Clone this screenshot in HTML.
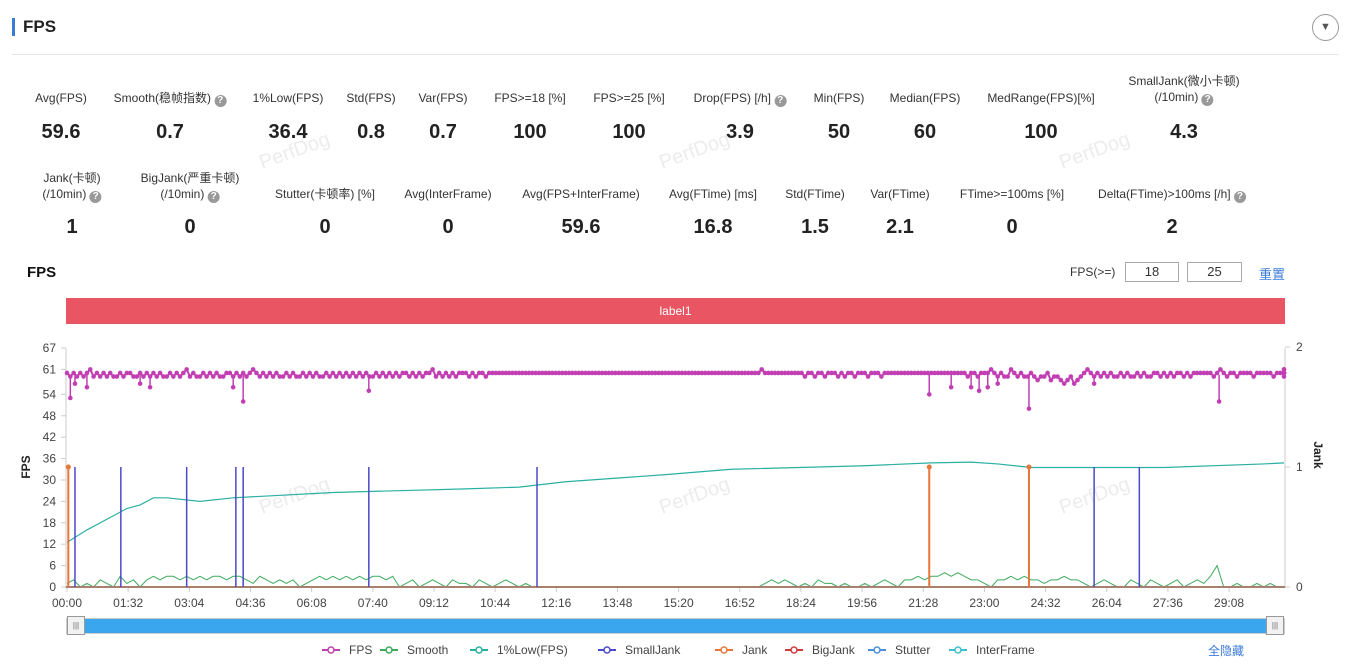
<!DOCTYPE html>
<html><head><meta charset="utf-8">
<style>
body{margin:0;width:1348px;height:664px;background:#fff;font-family:"Liberation Sans","Noto Sans CJK SC",sans-serif;position:relative;overflow:hidden;color:#333}
.abs{position:absolute}
.lbl{position:absolute;font-size:12px;color:#333;text-align:center;transform:translateX(-50%);white-space:nowrap;line-height:16px}
.val{position:absolute;font-size:20px;font-weight:bold;color:#222;transform:translateX(-50%)}
.q{display:inline-block;width:12px;height:12px;border-radius:50%;background:#999;color:#fff;font-size:10px;line-height:12px;text-align:center;vertical-align:-1px;font-weight:bold}
.inp{position:absolute;border:1px solid #aaa;height:18px;font-size:13px;text-align:center;line-height:18px;color:#333}
.wm{position:absolute;color:#ececec;font-size:20px;transform:rotate(-20deg)}
</style></head><body>
<div class="abs" style="left:12px;top:18px;width:3px;height:18px;background:#3b7bd8"></div>
<div class="abs" style="left:23px;top:17px;font-size:17px;font-weight:bold;color:#222">FPS</div>
<div class="abs" style="left:1312px;top:14px;width:25px;height:25px;border:1px solid #999;border-radius:50%;text-align:center;line-height:25px;font-size:11px;color:#555">▼</div>
<div class="abs" style="left:12px;top:54px;width:1326px;height:1px;background:#e5e5e5"></div>

<div class="wm" style="left:258px;top:140px">PerfDog</div><div class="wm" style="left:658px;top:140px">PerfDog</div><div class="wm" style="left:1058px;top:140px">PerfDog</div>
<div class="wm" style="left:258px;top:485px">PerfDog</div><div class="wm" style="left:658px;top:485px">PerfDog</div><div class="wm" style="left:1058px;top:485px">PerfDog</div>

<div>
<div class="lbl" style="left:61px;top:90px">Avg(FPS)</div><div class="val" style="left:61px;top:121px">59.6</div>
<div class="lbl" style="left:170px;top:90px">Smooth(稳帧指数) <span class="q">?</span></div><div class="val" style="left:170px;top:121px">0.7</div>
<div class="lbl" style="left:288px;top:90px">1%Low(FPS)</div><div class="val" style="left:288px;top:121px">36.4</div>
<div class="lbl" style="left:371px;top:90px">Std(FPS)</div><div class="val" style="left:371px;top:121px">0.8</div>
<div class="lbl" style="left:443px;top:90px">Var(FPS)</div><div class="val" style="left:443px;top:121px">0.7</div>
<div class="lbl" style="left:530px;top:90px">FPS>=18 [%]</div><div class="val" style="left:530px;top:121px">100</div>
<div class="lbl" style="left:629px;top:90px">FPS>=25 [%]</div><div class="val" style="left:629px;top:121px">100</div>
<div class="lbl" style="left:740px;top:90px">Drop(FPS) [/h] <span class="q">?</span></div><div class="val" style="left:740px;top:121px">3.9</div>
<div class="lbl" style="left:839px;top:90px">Min(FPS)</div><div class="val" style="left:839px;top:121px">50</div>
<div class="lbl" style="left:925px;top:90px">Median(FPS)</div><div class="val" style="left:925px;top:121px">60</div>
<div class="lbl" style="left:1041px;top:90px">MedRange(FPS)[%]</div><div class="val" style="left:1041px;top:121px">100</div>
<div class="lbl" style="left:1184px;top:73px">SmallJank(微小卡顿)<br>(/10min) <span class="q">?</span></div><div class="val" style="left:1184px;top:121px">4.3</div>
</div>
<div>
<div class="lbl" style="left:72px;top:170px">Jank(卡顿)<br>(/10min) <span class="q">?</span></div><div class="val" style="left:72px;top:216px">1</div>
<div class="lbl" style="left:190px;top:170px">BigJank(严重卡顿)<br>(/10min) <span class="q">?</span></div><div class="val" style="left:190px;top:216px">0</div>
<div class="lbl" style="left:325px;top:186px">Stutter(卡顿率) [%]</div><div class="val" style="left:325px;top:216px">0</div>
<div class="lbl" style="left:448px;top:186px">Avg(InterFrame)</div><div class="val" style="left:448px;top:216px">0</div>
<div class="lbl" style="left:581px;top:186px">Avg(FPS+InterFrame)</div><div class="val" style="left:581px;top:216px">59.6</div>
<div class="lbl" style="left:713px;top:186px">Avg(FTime) [ms]</div><div class="val" style="left:713px;top:216px">16.8</div>
<div class="lbl" style="left:815px;top:186px">Std(FTime)</div><div class="val" style="left:815px;top:216px">1.5</div>
<div class="lbl" style="left:900px;top:186px">Var(FTime)</div><div class="val" style="left:900px;top:216px">2.1</div>
<div class="lbl" style="left:1012px;top:186px">FTime>=100ms [%]</div><div class="val" style="left:1012px;top:216px">0</div>
<div class="lbl" style="left:1172px;top:186px">Delta(FTime)>100ms [/h] <span class="q">?</span></div><div class="val" style="left:1172px;top:216px">2</div>
</div>

<div class="abs" style="left:27px;top:264px;font-size:15px;font-weight:bold;color:#111">FPS</div>
<div class="abs" style="left:1070px;top:265px;font-size:12px">FPS(>=)</div>
<div class="inp" style="left:1125px;top:262px;width:52px">18</div>
<div class="inp" style="left:1187px;top:262px;width:53px">25</div>
<div class="abs" style="left:1259px;top:264px;font-size:13px;color:#3b7bd8">重置</div>
<div class="abs" style="left:66px;top:298px;width:1219px;height:26px;background:#ea5563;color:#fff;font-size:12px;text-align:center;line-height:26px">label1</div>

<svg id="chart" class="abs" style="left:0;top:0" width="1348" height="664"></svg>

<div class="abs" style="left:66px;top:618px;width:1219px;height:16px;background:#3aa6ee;border:1px solid #ccc;box-sizing:border-box"></div>
<div class="abs" style="left:67px;top:616px;width:18px;height:19px;background:#f2f2f2;border:1px solid #999;box-sizing:border-box;font-size:8px;text-align:center;line-height:17px;color:#666">|||</div>
<div class="abs" style="left:1266px;top:616px;width:18px;height:19px;background:#f2f2f2;border:1px solid #999;box-sizing:border-box;font-size:8px;text-align:center;line-height:17px;color:#666">|||</div>
<div class="abs" style="left:1208px;top:642px;font-size:12px;color:#3b7bd8">全隐藏</div>

<script>
const NS='http://www.w3.org/2000/svg';
const svg=document.getElementById('chart');
const xTickLabels=['00:00','01:32','03:04','04:36','06:08','07:40','09:12','10:44','12:16','13:48','15:20','16:52','18:24','19:56','21:28','23:00','24:32','26:04','27:36','29:08'];
const yTicks=[0,6,12,18,24,30,36,42,48,54,61,67];
const jankTicks=[0,1,2];
const sampleStep=5;
const fps=[60,59,60,59,60,59,60,61,59,60,59,60,59,60,59,59,60,59,60,60,59,59,60,59,60,59,60,59,60,59,59,60,59,60,59,60,61,59,60,59,
59,60,59,60,59,60,59,59,60,60,59,60,59,60,59,60,61,60,59,60,59,60,59,60,59,59,60,59,60,59,59,60,59,60,59,60,59,59,60,59,
60,59,60,59,60,59,60,59,60,59,60,59,59,60,59,60,59,60,59,60,59,60,60,59,60,59,60,59,60,60,61,59,60,59,60,59,60,59,60,60,
60,59,60,59,60,60,59,60,60,60,60,60,60,60,60,60,60,60,60,60,60,60,60,60,60,60,60,60,60,60,60,60,60,60,60,60,60,60,60,60,
60,60,60,60,60,60,60,60,60,60,60,60,60,60,60,60,60,60,60,60,60,60,60,60,60,60,60,60,60,60,60,60,60,60,60,60,60,60,60,60,
60,60,60,60,60,60,60,60,60,61,60,60,60,60,60,60,60,60,60,60,60,60,59,60,60,59,60,60,59,60,60,60,59,60,59,60,60,59,60,60,
60,59,60,60,60,59,60,60,60,60,60,60,60,60,60,60,60,60,60,60,60,60,60,60,60,60,60,60,60,60,60,59,60,60,59,60,60,60,61,60,
59,60,59,59,61,60,59,60,59,59,60,59,58,59,59,60,58,59,59,58,57,58,59,57,58,59,60,61,60,59,60,59,60,59,60,59,59,60,59,60,
59,59,60,59,60,59,59,60,60,59,60,59,60,59,60,60,59,60,59,60,60,60,60,60,60,59,60,61,60,59,60,60,59,60,60,60,60,59,60,60,
60,60,60,59,60,60,60,61,60,60,60,60,60,61,60,59,60];
const dipTimes=[5,12,30,110,125,250,265,454,1297,1330,1360,1372,1385,1400,1447,1545,1733];
const dipValues=[53,57,56,57,56,56,52,55,54,56,56,55,56,57,50,57,52];
const smooth=[1,2,0,1,0,2,1,0,3,1,2,0,2,3,2,3,3,2,3,2,3,2,3,3,2,3,3,2,1,3,2,1,2,1,2,0,1,2,3,2,3,2,3,2,3,2,3,3,2,3,0,1,2,0,1,2,1,0,2,1,1,0,2,1,0,1,2,1,0,1,0,0,0,0,0,0,0,0,0,0,0,0,0,0,0,0,0,0,0,0,0,0,0,0,0,0,0,0,0,0,0,0,0,0,0,1,2,1,2,1,0,1,0,2,1,1,0,1,0,0,1,0,1,2,1,0,2,2,3,2,3,3,4,3,4,3,2,2,1,0,2,2,3,2,3,2,2,1,2,2,3,2,2,1,0,1,2,1,0,0,2,1,0,2,1,0,1,2,0,1,2,1,3,6,0,0,1,0,0,1,0,1,0,0];
const smoothStep=10;
const lowTimes=[0,30,60,90,110,130,150,200,250,300,400,500,600,680,750,900,1000,1200,1300,1360,1400,1450,1550,1650,1800,1832];
const lowValues=[12.5,16,19,22,23,25,25,24,25,25.5,26.5,27,27.5,28,29.5,31.5,33,34,34.8,35,34.5,33.5,33.5,33.5,34.5,34.8];
const smallJankTimes=[12,81,180,254,265,454,707,1545,1613];
const jankTimes=[2,1297,1447];
const legendNames=['FPS','Smooth','1%Low(FPS)','SmallJank','Jank','BigJank','Stutter','InterFrame'];
const legendColors=['#c23fb3','#3daa5c','#2ab0a2','#4a4ac8','#e8763a','#d03a3a','#4a90d9','#3cc0d0'];

const X0=67,PX=0.6648,Y0=587,YK=239/67;
const xs=t=>Math.min(X0+t*PX,1284), yl=v=>Y0-v*YK, yr=v=>Y0-v*120;
function mk(tag,attrs,name){const e=document.createElementNS(NS,tag);for(const k in attrs)e.setAttribute(k,attrs[k]);


svg.appendChild(e);return e;}
function txt(x,y,s,anchor,name,extra){const e=mk('text',Object.assign({x:x,y:y,'font-size':12,fill:'#444','text-anchor':anchor,'font-family':'Liberation Sans, sans-serif'},extra||{}),name);e.textContent=s;return e;}
mk('line',{x1:66,y1:348,x2:66,y2:588,stroke:'#ccc'},'y-axis-left');
mk('line',{x1:1285,y1:348,x2:1285,y2:588,stroke:'#ccc'},'y-axis-right');
yTicks.forEach(v=>{mk('line',{x1:61,x2:66,y1:yl(v),y2:yl(v),stroke:'#ccc'},'y-tick');txt(56,yl(v)+4,String(v),'end','y-tick-label');});
jankTicks.forEach(v=>{mk('line',{x1:1285,x2:1290,y1:yr(v),y2:yr(v),stroke:'#ccc'},'jank-tick');txt(1296,yr(v)+4,String(v),'start','jank-tick-label');});
xTickLabels.forEach((s,i)=>{const x=xs(i*92);mk('line',{x1:x,x2:x,y1:587,y2:592,stroke:'#ccc'},'x-tick');txt(x,607,s,'middle','x-tick-label');});
txt(0,0,'FPS','middle','y-axis-title',{transform:'translate(30,467) rotate(-90)','font-weight':'bold',fill:'#222'});
txt(0,0,'Jank','middle','jank-axis-title',{transform:'translate(1314,455) rotate(90)','font-weight':'bold',fill:'#222'});
mk('polyline',{points:smooth.map((v,i)=>xs(i*smoothStep)+','+yl(v)).join(' '),fill:'none',stroke:'#3daa5c','stroke-width':1},'smooth-line');
mk('polyline',{points:lowTimes.map((t,i)=>xs(t)+','+yl(lowValues[i])).join(' '),fill:'none',stroke:'#2ab0a2','stroke-width':1.2},'low1-line');
mk('line',{x1:66,x2:1285,y1:587,y2:587,stroke:'#a88070','stroke-width':2},'bigjank-baseline');
smallJankTimes.forEach(t=>mk('line',{x1:xs(t),x2:xs(t),y1:yr(0),y2:yr(1),stroke:'#4a4ac8','stroke-width':1.5},'smalljank-spike'));
jankTimes.forEach(t=>{mk('line',{x1:xs(t),x2:xs(t),y1:yr(0),y2:yr(1),stroke:'#e8763a','stroke-width':2},'jank-spike');mk('circle',{cx:xs(t),cy:yr(1),r:2.5,fill:'#e8763a'},'jank-point');});
mk('polyline',{points:fps.map((v,i)=>xs(i*sampleStep)+','+yl(v)).join(' '),fill:'none',stroke:'#c23fb3','stroke-width':2},'fps-line');
fps.forEach((v,i)=>mk('circle',{cx:xs(i*sampleStep),cy:yl(v),r:2.3,fill:'#c23fb3'},'fps-point'));
dipTimes.forEach((t,i)=>{mk('line',{x1:xs(t),x2:xs(t),y1:yl(59.5),y2:yl(dipValues[i]),stroke:'#c23fb3','stroke-width':1.5},'fps-dip');
mk('circle',{cx:xs(t),cy:yl(dipValues[i]),r:2.3,fill:'#c23fb3'},'fps-dip-point');});
const lx=[322,380,470,598,715,785,868,949];
legendNames.forEach((n,i)=>{const c=legendColors[i];mk('line',{x1:lx[i],x2:lx[i]+18,y1:650,y2:650,stroke:c,'stroke-width':2},'legend-swatch');
mk('circle',{cx:lx[i]+9,cy:650,r:3,fill:'#fff',stroke:c,'stroke-width':1.5},'legend-marker');
const t=txt(lx[i]+27,654,n,'start','legend-entry');});
</script>
</body></html>
